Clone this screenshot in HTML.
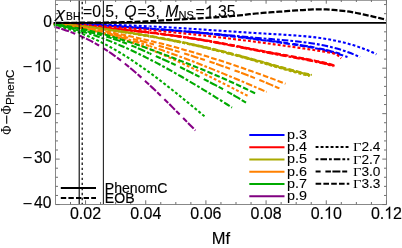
<!DOCTYPE html>
<html><head><meta charset="utf-8"><title>plot</title>
<style>html,body{margin:0;padding:0;background:#fff;width:402px;height:248px;overflow:hidden}</style></head>
<body>
<div style="position:absolute;left:0;top:0;width:402px;height:248px;will-change:transform">
<svg width="402" height="248" viewBox="0 0 402 248" style="position:absolute;left:0;top:0;font-family:'Liberation Sans',sans-serif">
<rect width="402" height="248" fill="#fff"/>
<path d="M53.80,23.27 L58.06,23.36 L62.31,23.46 L66.57,23.59 L70.83,23.74 L75.08,23.90 L79.34,24.09 L83.60,24.29 L87.85,24.51 L92.11,24.74 L96.37,24.99 L100.62,25.24 L104.88,25.52 L109.13,25.80 L113.39,26.09 L117.65,26.39 L121.90,26.69 L126.16,27.00 L130.42,27.32 L134.67,27.64 L138.93,27.97 L143.19,28.29 L147.44,28.62 L151.70,28.94 L155.96,29.27 L160.21,29.59 L164.47,29.92 L168.73,30.25 L172.98,30.59 L177.24,30.93 L181.50,31.27 L185.75,31.63 L190.01,31.99 L194.27,32.37 L198.52,32.76 L202.78,33.16 L207.03,33.57 L211.29,34.00 L215.55,34.45 L219.80,34.91 L224.06,35.39 L228.32,35.88 L232.57,36.38 L236.83,36.89 L241.09,37.42 L245.34,37.95 L249.60,38.50 L253.86,39.05 L258.11,39.60 L262.37,40.17 L266.63,40.74 L270.88,41.31 L275.14,41.89 L279.40,42.47 L283.65,43.07 L287.91,43.68 L292.17,44.30 L296.42,44.95 L300.68,45.63 L304.93,46.34 L309.19,47.09 L313.45,47.89 L317.70,48.76 L321.96,49.68 L326.22,50.68 L330.47,51.75 L334.73,52.91 L338.99,54.16 L343.24,55.51 L347.50,56.96" fill="none" stroke="#0000ff" stroke-width="2.1" stroke-dasharray="5.6 2.2" stroke-dashoffset="2.5"/>
<path d="M53.80,23.27 L57.95,23.35 L62.10,23.46 L66.24,23.58 L70.39,23.72 L74.54,23.88 L78.69,24.05 L82.83,24.25 L86.98,24.45 L91.13,24.67 L95.28,24.91 L99.43,25.15 L103.57,25.41 L107.72,25.68 L111.87,25.95 L116.02,26.24 L120.17,26.53 L124.31,26.83 L128.46,27.13 L132.61,27.43 L136.76,27.74 L140.90,28.05 L145.05,28.36 L149.20,28.68 L153.35,28.99 L157.50,29.30 L161.64,29.61 L165.79,29.92 L169.94,30.23 L174.09,30.55 L178.23,30.88 L182.38,31.21 L186.53,31.55 L190.68,31.89 L194.83,32.25 L198.97,32.62 L203.12,33.00 L207.27,33.40 L211.42,33.81 L215.57,34.23 L219.71,34.67 L223.86,35.12 L228.01,35.58 L232.16,36.06 L236.30,36.55 L240.45,37.04 L244.60,37.55 L248.75,38.06 L252.90,38.58 L257.04,39.11 L261.19,39.65 L265.34,40.18 L269.49,40.73 L273.63,41.27 L277.78,41.82 L281.93,42.38 L286.08,42.95 L290.23,43.54 L294.37,44.14 L298.52,44.77 L302.67,45.42 L306.82,46.12 L310.97,46.85 L315.11,47.64 L319.26,48.48 L323.41,49.39 L327.56,50.36 L331.70,51.41 L335.85,52.55 L340.00,53.77" fill="none" stroke="#0000ff" stroke-width="2.1" stroke-dasharray="5 4.8 5.5 1.5 8 1.8" stroke-dashoffset="9"/>
<path d="M53.80,23.28 L58.24,23.34 L62.68,23.43 L67.11,23.55 L71.55,23.69 L75.99,23.85 L80.43,24.03 L84.86,24.23 L89.30,24.45 L93.74,24.69 L98.18,24.95 L102.61,25.22 L107.05,25.50 L111.49,25.80 L115.93,26.10 L120.37,26.42 L124.80,26.74 L129.24,27.07 L133.68,27.41 L138.12,27.74 L142.55,28.08 L146.99,28.43 L151.43,28.77 L155.87,29.11 L160.30,29.45 L164.74,29.79 L169.18,30.13 L173.62,30.48 L178.06,30.83 L182.49,31.18 L186.93,31.53 L191.37,31.89 L195.81,32.26 L200.24,32.63 L204.68,33.02 L209.12,33.40 L213.56,33.80 L217.99,34.21 L222.43,34.62 L226.87,35.04 L231.31,35.46 L235.74,35.88 L240.18,36.30 L244.62,36.72 L249.06,37.14 L253.50,37.55 L257.93,37.96 L262.37,38.36 L266.81,38.75 L271.25,39.12 L275.68,39.49 L280.12,39.86 L284.56,40.24 L289.00,40.64 L293.43,41.07 L297.87,41.53 L302.31,42.03 L306.75,42.60 L311.19,43.22 L315.62,43.93 L320.06,44.71 L324.50,45.59 L328.94,46.56 L333.37,47.65 L337.81,48.86 L342.25,50.20 L346.69,51.69 L351.12,53.34 L355.56,55.15 L360.00,57.14" fill="none" stroke="#0000ff" stroke-width="2.1" stroke-dasharray="2.8 2.0 6.6 2.0" stroke-dashoffset="4"/>
<path d="M53.80,23.17 L58.48,23.28 L63.15,23.40 L67.83,23.51 L72.50,23.63 L77.18,23.76 L81.85,23.88 L86.53,24.01 L91.20,24.14 L95.88,24.28 L100.55,24.42 L105.23,24.57 L109.90,24.72 L114.58,24.88 L119.26,25.05 L123.93,25.23 L128.61,25.41 L133.28,25.61 L137.96,25.81 L142.63,26.02 L147.31,26.25 L151.98,26.48 L156.66,26.73 L161.33,26.98 L166.01,27.24 L170.68,27.52 L175.36,27.80 L180.03,28.08 L184.71,28.38 L189.39,28.68 L194.06,28.98 L198.74,29.29 L203.41,29.60 L208.09,29.91 L212.76,30.22 L217.44,30.54 L222.11,30.85 L226.79,31.17 L231.46,31.48 L236.14,31.79 L240.81,32.10 L245.49,32.41 L250.17,32.71 L254.84,33.00 L259.52,33.29 L264.19,33.57 L268.87,33.84 L273.54,34.11 L278.22,34.37 L282.89,34.64 L287.57,34.93 L292.24,35.24 L296.92,35.58 L301.59,35.95 L306.27,36.38 L310.94,36.86 L315.62,37.41 L320.30,38.03 L324.97,38.73 L329.65,39.52 L334.32,40.41 L339.00,41.41 L343.67,42.52 L348.35,43.75 L353.02,45.11 L357.70,46.62 L362.37,48.27 L367.05,50.08 L371.72,52.05 L376.40,54.20" fill="none" stroke="#0000ff" stroke-width="2.1" stroke-dasharray="2.9 2.1" stroke-dashoffset="0"/>
<path d="M53.80,23.90 L57.85,24.21 L61.91,24.52 L65.96,24.84 L70.01,25.16 L74.07,25.49 L78.12,25.81 L82.18,26.15 L86.23,26.48 L90.28,26.82 L94.34,27.17 L98.39,27.53 L102.44,27.89 L106.50,28.26 L110.55,28.63 L114.60,29.02 L118.66,29.41 L122.71,29.81 L126.77,30.22 L130.82,30.64 L134.87,31.07 L138.93,31.52 L142.98,31.97 L147.03,32.44 L151.09,32.91 L155.14,33.40 L159.19,33.91 L163.25,34.43 L167.30,34.96 L171.36,35.51 L175.41,36.07 L179.46,36.64 L183.52,37.24 L187.57,37.85 L191.62,38.48 L195.68,39.12 L199.73,39.78 L203.78,40.47 L207.84,41.17 L211.89,41.89 L215.94,42.62 L220.00,43.38 L224.05,44.15 L228.11,44.93 L232.16,45.72 L236.21,46.51 L240.27,47.32 L244.32,48.12 L248.37,48.93 L252.43,49.73 L256.48,50.53 L260.53,51.33 L264.59,52.12 L268.64,52.89 L272.70,53.66 L276.75,54.41 L280.80,55.15 L284.86,55.90 L288.91,56.64 L292.96,57.39 L297.02,58.15 L301.07,58.92 L305.12,59.70 L309.18,60.51 L313.23,61.34 L317.29,62.19 L321.34,63.09 L325.39,64.03 L329.45,65.10 L333.50,66.34" fill="none" stroke="#ff0000" stroke-width="2.1" stroke-dasharray="2.8 2.0 6.6 2.0" stroke-dashoffset="4"/>
<path d="M53.80,23.80 L57.87,24.11 L61.94,24.43 L66.00,24.74 L70.07,25.07 L74.14,25.39 L78.21,25.72 L82.28,26.05 L86.34,26.39 L90.41,26.73 L94.48,27.08 L98.55,27.43 L102.62,27.79 L106.69,28.16 L110.75,28.53 L114.82,28.91 L118.89,29.30 L122.96,29.70 L127.03,30.11 L131.09,30.53 L135.16,30.96 L139.23,31.40 L143.30,31.86 L147.37,32.32 L151.43,32.79 L155.50,33.28 L159.57,33.79 L163.64,34.30 L167.71,34.83 L171.78,35.37 L175.84,35.93 L179.91,36.51 L183.98,37.10 L188.05,37.71 L192.12,38.33 L196.18,38.97 L200.25,39.63 L204.32,40.31 L208.39,41.01 L212.46,41.73 L216.52,42.46 L220.59,43.21 L224.66,43.98 L228.73,44.75 L232.80,45.54 L236.87,46.33 L240.93,47.13 L245.00,47.92 L249.07,48.72 L253.14,49.52 L257.21,50.31 L261.27,51.10 L265.34,51.88 L269.41,52.64 L273.48,53.39 L277.55,54.14 L281.61,54.87 L285.68,55.61 L289.75,56.34 L293.82,57.08 L297.89,57.83 L301.96,58.59 L306.02,59.37 L310.09,60.17 L314.16,61.00 L318.23,61.85 L322.30,62.74 L326.36,63.70 L330.43,64.79 L334.50,66.08" fill="none" stroke="#ff0000" stroke-width="2.1" stroke-dasharray="5 4.8 5.5 1.5 8 1.8" stroke-dashoffset="9"/>
<path d="M53.80,23.70 L57.88,24.01 L61.97,24.33 L66.05,24.65 L70.13,24.97 L74.21,25.29 L78.30,25.62 L82.38,25.95 L86.46,26.29 L90.54,26.63 L94.63,26.98 L98.71,27.33 L102.79,27.69 L106.87,28.06 L110.96,28.43 L115.04,28.81 L119.12,29.20 L123.20,29.60 L127.29,30.01 L131.37,30.42 L135.45,30.85 L139.53,31.29 L143.62,31.74 L147.70,32.20 L151.78,32.68 L155.87,33.16 L159.95,33.66 L164.03,34.18 L168.11,34.70 L172.20,35.24 L176.28,35.80 L180.36,36.37 L184.44,36.96 L188.53,37.57 L192.61,38.19 L196.69,38.83 L200.77,39.49 L204.86,40.16 L208.94,40.86 L213.02,41.57 L217.10,42.30 L221.19,43.05 L225.27,43.81 L229.35,44.58 L233.43,45.36 L237.52,46.14 L241.60,46.94 L245.68,47.73 L249.77,48.52 L253.85,49.31 L257.93,50.09 L262.01,50.87 L266.10,51.63 L270.18,52.39 L274.26,53.13 L278.34,53.86 L282.43,54.59 L286.51,55.31 L290.59,56.04 L294.67,56.77 L298.76,57.51 L302.84,58.27 L306.92,59.04 L311.00,59.84 L315.09,60.66 L319.17,61.51 L323.25,62.40 L327.33,63.37 L331.42,64.50 L335.50,65.83" fill="none" stroke="#ff0000" stroke-width="2.1" stroke-dasharray="5.6 2.2" stroke-dashoffset="2.5"/>
<path d="M53.80,23.33 L57.97,23.55 L62.13,23.78 L66.30,24.02 L70.46,24.26 L74.63,24.51 L78.79,24.76 L82.96,25.03 L87.12,25.30 L91.29,25.57 L95.45,25.85 L99.62,26.14 L103.78,26.44 L107.95,26.74 L112.11,27.05 L116.28,27.37 L120.44,27.69 L124.61,28.02 L128.77,28.36 L132.94,28.71 L137.10,29.06 L141.27,29.41 L145.43,29.78 L149.60,30.15 L153.77,30.52 L157.93,30.91 L162.10,31.30 L166.26,31.70 L170.43,32.10 L174.59,32.51 L178.76,32.93 L182.92,33.35 L187.09,33.78 L191.25,34.22 L195.42,34.66 L199.58,35.11 L203.75,35.57 L207.91,36.04 L212.08,36.51 L216.24,36.98 L220.41,37.47 L224.57,37.96 L228.74,38.45 L232.90,38.96 L237.07,39.47 L241.23,39.98 L245.40,40.50 L249.57,41.03 L253.73,41.57 L257.90,42.11 L262.06,42.66 L266.23,43.22 L270.39,43.78 L274.56,44.35 L278.72,44.92 L282.89,45.50 L287.05,46.09 L291.22,46.69 L295.38,47.29 L299.55,47.91 L303.71,48.53 L307.88,49.15 L312.04,49.79 L316.21,50.43 L320.37,51.09 L324.54,51.75 L328.70,52.42 L332.87,53.17 L337.03,54.76 L341.20,58.38" fill="none" stroke="#ff0000" stroke-width="2.1" stroke-dasharray="2.9 2.1" stroke-dashoffset="0"/>
<path d="M53.80,23.91 L57.51,24.23 L61.21,24.57 L64.92,24.92 L68.62,25.28 L72.33,25.66 L76.03,26.05 L79.74,26.45 L83.45,26.86 L87.15,27.29 L90.86,27.73 L94.56,28.18 L98.27,28.65 L101.98,29.13 L105.68,29.62 L109.39,30.12 L113.09,30.64 L116.80,31.17 L120.50,31.71 L124.21,32.27 L127.92,32.84 L131.62,33.43 L135.33,34.02 L139.03,34.64 L142.74,35.26 L146.44,35.90 L150.15,36.55 L153.86,37.22 L157.56,37.90 L161.27,38.59 L164.97,39.30 L168.68,40.02 L172.39,40.76 L176.09,41.51 L179.80,42.27 L183.50,43.05 L187.21,43.84 L190.91,44.65 L194.62,45.47 L198.33,46.31 L202.03,47.16 L205.74,48.02 L209.44,48.90 L213.15,49.80 L216.86,50.71 L220.56,51.63 L224.27,52.57 L227.97,53.52 L231.68,54.49 L235.38,55.48 L239.09,56.47 L242.80,57.49 L246.50,58.51 L250.21,59.55 L253.91,60.60 L257.62,61.66 L261.32,62.72 L265.03,63.78 L268.74,64.84 L272.44,65.91 L276.15,66.97 L279.85,68.02 L283.56,69.07 L287.27,70.11 L290.97,71.13 L294.68,72.15 L298.38,73.14 L302.09,74.12 L305.79,75.08 L309.50,76.02" fill="none" stroke="#aaaa00" stroke-width="2.1" stroke-dasharray="2.9 2.1" stroke-dashoffset="0"/>
<path d="M53.80,23.81 L57.52,24.13 L61.24,24.47 L64.96,24.82 L68.68,25.19 L72.40,25.57 L76.12,25.95 L79.84,26.36 L83.56,26.77 L87.28,27.20 L91.00,27.64 L94.72,28.09 L98.44,28.55 L102.16,29.03 L105.88,29.52 L109.60,30.03 L113.32,30.55 L117.04,31.08 L120.77,31.62 L124.49,32.18 L128.21,32.75 L131.93,33.33 L135.65,33.93 L139.37,34.54 L143.09,35.16 L146.81,35.80 L150.53,36.45 L154.25,37.11 L157.97,37.79 L161.69,38.48 L165.41,39.19 L169.13,39.91 L172.85,40.64 L176.57,41.39 L180.29,42.15 L184.01,42.93 L187.73,43.72 L191.45,44.52 L195.17,45.34 L198.89,46.18 L202.61,47.02 L206.33,47.89 L210.05,48.76 L213.77,49.65 L217.49,50.56 L221.21,51.48 L224.93,52.42 L228.65,53.37 L232.37,54.33 L236.09,55.31 L239.81,56.31 L243.53,57.32 L247.26,58.34 L250.98,59.37 L254.70,60.41 L258.42,61.46 L262.14,62.52 L265.86,63.57 L269.58,64.63 L273.30,65.68 L277.02,66.73 L280.74,67.78 L284.46,68.81 L288.18,69.84 L291.90,70.85 L295.62,71.85 L299.34,72.84 L303.06,73.80 L306.78,74.74 L310.50,75.66" fill="none" stroke="#aaaa00" stroke-width="2.1" stroke-dasharray="2.8 2.0 6.6 2.0" stroke-dashoffset="4"/>
<path d="M53.80,23.61 L57.53,23.93 L61.26,24.27 L64.99,24.63 L68.72,24.99 L72.45,25.37 L76.18,25.76 L79.91,26.16 L83.64,26.58 L87.37,27.00 L91.10,27.44 L94.83,27.90 L98.57,28.36 L102.30,28.84 L106.03,29.33 L109.76,29.84 L113.49,30.35 L117.22,30.88 L120.95,31.43 L124.68,31.98 L128.41,32.55 L132.14,33.14 L135.87,33.73 L139.60,34.34 L143.33,34.97 L147.06,35.60 L150.79,36.25 L154.52,36.92 L158.25,37.60 L161.98,38.29 L165.71,38.99 L169.44,39.71 L173.17,40.44 L176.90,41.19 L180.63,41.95 L184.37,42.73 L188.10,43.52 L191.83,44.32 L195.56,45.14 L199.29,45.97 L203.02,46.82 L206.75,47.68 L210.48,48.55 L214.21,49.44 L217.94,50.35 L221.67,51.27 L225.40,52.20 L229.13,53.15 L232.86,54.11 L236.59,55.09 L240.32,56.09 L244.05,57.09 L247.78,58.11 L251.51,59.14 L255.24,60.18 L258.97,61.23 L262.70,62.28 L266.43,63.33 L270.17,64.38 L273.90,65.43 L277.63,66.48 L281.36,67.52 L285.09,68.55 L288.82,69.56 L292.55,70.57 L296.28,71.56 L300.01,72.54 L303.74,73.49 L307.47,74.42 L311.20,75.33" fill="none" stroke="#aaaa00" stroke-width="2.1" stroke-dasharray="5 4.8 5.5 1.5 8 1.8" stroke-dashoffset="9"/>
<path d="M53.80,23.51 L57.54,23.83 L61.28,24.18 L65.02,24.53 L68.76,24.89 L72.50,25.27 L76.23,25.66 L79.97,26.06 L83.71,26.48 L87.45,26.91 L91.19,27.35 L94.93,27.80 L98.67,28.26 L102.41,28.74 L106.15,29.23 L109.89,29.73 L113.63,30.25 L117.37,30.78 L121.10,31.32 L124.84,31.88 L128.58,32.45 L132.32,33.03 L136.06,33.62 L139.80,34.23 L143.54,34.85 L147.28,35.49 L151.02,36.14 L154.76,36.80 L158.50,37.47 L162.23,38.16 L165.97,38.87 L169.71,39.58 L173.45,40.31 L177.19,41.06 L180.93,41.82 L184.67,42.59 L188.41,43.38 L192.15,44.18 L195.89,44.99 L199.63,45.82 L203.37,46.66 L207.10,47.52 L210.84,48.39 L214.58,49.28 L218.32,50.18 L222.06,51.10 L225.80,52.03 L229.54,52.97 L233.28,53.93 L237.02,54.90 L240.76,55.89 L244.50,56.90 L248.23,57.91 L251.97,58.94 L255.71,59.97 L259.45,61.01 L263.19,62.05 L266.93,63.10 L270.67,64.14 L274.41,65.18 L278.15,66.22 L281.89,67.25 L285.63,68.27 L289.37,69.28 L293.10,70.28 L296.84,71.26 L300.58,72.22 L304.32,73.16 L308.06,74.08 L311.80,74.98" fill="none" stroke="#aaaa00" stroke-width="2.1" stroke-dasharray="5.6 2.2" stroke-dashoffset="2.5"/>
<path d="M53.80,24.20 L56.62,24.45 L59.43,24.73 L62.25,25.05 L65.07,25.41 L67.89,25.79 L70.70,26.21 L73.52,26.67 L76.34,27.15 L79.16,27.67 L81.97,28.21 L84.79,28.79 L87.61,29.39 L90.43,30.03 L93.24,30.69 L96.06,31.38 L98.88,32.10 L101.70,32.85 L104.51,33.62 L107.33,34.42 L110.15,35.24 L112.97,36.09 L115.78,36.97 L118.60,37.86 L121.42,38.79 L124.23,39.73 L127.05,40.70 L129.87,41.69 L132.69,42.69 L135.50,43.73 L138.32,44.78 L141.14,45.85 L143.96,46.94 L146.77,48.05 L149.59,49.17 L152.41,50.32 L155.23,51.48 L158.04,52.66 L160.86,53.85 L163.68,55.06 L166.50,56.29 L169.31,57.53 L172.13,58.79 L174.95,60.05 L177.77,61.33 L180.58,62.63 L183.40,63.93 L186.22,65.25 L189.03,66.58 L191.85,67.92 L194.67,69.27 L197.49,70.63 L200.30,71.99 L203.12,73.37 L205.94,74.75 L208.76,76.14 L211.57,77.54 L214.39,78.95 L217.21,80.36 L220.03,81.77 L222.84,83.19 L225.66,84.62 L228.48,86.04 L231.30,87.48 L234.11,88.91 L236.93,90.35 L239.75,91.78 L242.57,93.22 L245.38,94.66 L248.20,96.10" fill="none" stroke="#ff8000" stroke-width="2.1" stroke-dasharray="2.9 2.1" stroke-dashoffset="0"/>
<path d="M53.80,24.02 L56.88,24.39 L59.97,24.79 L63.05,25.21 L66.14,25.66 L69.22,26.13 L72.30,26.62 L75.39,27.14 L78.47,27.69 L81.56,28.25 L84.64,28.84 L87.72,29.46 L90.81,30.09 L93.89,30.75 L96.98,31.43 L100.06,32.13 L103.14,32.85 L106.23,33.59 L109.31,34.36 L112.40,35.14 L115.48,35.94 L118.57,36.76 L121.65,37.60 L124.73,38.46 L127.82,39.34 L130.90,40.23 L133.99,41.15 L137.07,42.08 L140.15,43.02 L143.24,43.99 L146.32,44.96 L149.41,45.96 L152.49,46.97 L155.57,47.99 L158.66,49.03 L161.74,50.09 L164.83,51.16 L167.91,52.24 L170.99,53.33 L174.08,54.44 L177.16,55.56 L180.25,56.69 L183.33,57.84 L186.41,58.99 L189.50,60.16 L192.58,61.34 L195.67,62.53 L198.75,63.73 L201.83,64.93 L204.92,66.15 L208.00,67.38 L211.09,68.61 L214.17,69.86 L217.26,71.11 L220.34,72.37 L223.42,73.64 L226.51,74.91 L229.59,76.19 L232.68,77.48 L235.76,78.77 L238.84,80.07 L241.93,81.37 L245.01,82.68 L248.10,84.00 L251.18,85.31 L254.26,86.63 L257.35,87.96 L260.43,89.29 L263.52,90.62 L266.60,91.95" fill="none" stroke="#ff8000" stroke-width="2.1" stroke-dasharray="2.8 2.0 6.6 2.0" stroke-dashoffset="4"/>
<path d="M53.80,23.92 L57.09,24.32 L60.37,24.75 L63.66,25.19 L66.94,25.65 L70.23,26.13 L73.51,26.64 L76.80,27.16 L80.08,27.70 L83.37,28.26 L86.66,28.85 L89.94,29.45 L93.23,30.06 L96.51,30.70 L99.80,31.36 L103.08,32.03 L106.37,32.72 L109.65,33.42 L112.94,34.15 L116.22,34.89 L119.51,35.64 L122.80,36.42 L126.08,37.20 L129.37,38.01 L132.65,38.83 L135.94,39.66 L139.22,40.51 L142.51,41.37 L145.79,42.24 L149.08,43.13 L152.37,44.04 L155.65,44.95 L158.94,45.88 L162.22,46.83 L165.51,47.78 L168.79,48.75 L172.08,49.72 L175.36,50.71 L178.65,51.71 L181.93,52.73 L185.22,53.75 L188.51,54.78 L191.79,55.82 L195.08,56.88 L198.36,57.94 L201.65,59.01 L204.93,60.09 L208.22,61.19 L211.50,62.29 L214.79,63.41 L218.08,64.54 L221.36,65.68 L224.65,66.83 L227.93,68.00 L231.22,69.18 L234.50,70.38 L237.79,71.59 L241.07,72.81 L244.36,74.06 L247.64,75.31 L250.93,76.59 L254.22,77.88 L257.50,79.19 L260.79,80.52 L264.07,81.86 L267.36,83.22 L270.64,84.61 L273.93,86.01 L277.21,87.43 L280.50,88.88" fill="none" stroke="#ff8000" stroke-width="2.1" stroke-dasharray="5 4.8 5.5 1.5 8 1.8" stroke-dashoffset="9"/>
<path d="M53.80,23.87 L57.16,24.24 L60.52,24.62 L63.87,25.02 L67.23,25.44 L70.59,25.88 L73.95,26.33 L77.31,26.80 L80.66,27.28 L84.02,27.79 L87.38,28.30 L90.74,28.84 L94.10,29.39 L97.45,29.95 L100.81,30.54 L104.17,31.13 L107.53,31.75 L110.89,32.37 L114.24,33.02 L117.60,33.68 L120.96,34.35 L124.32,35.04 L127.68,35.74 L131.03,36.46 L134.39,37.20 L137.75,37.94 L141.11,38.71 L144.47,39.49 L147.82,40.28 L151.18,41.08 L154.54,41.90 L157.90,42.74 L161.26,43.58 L164.61,44.44 L167.97,45.32 L171.33,46.21 L174.69,47.11 L178.04,48.03 L181.40,48.95 L184.76,49.90 L188.12,50.85 L191.48,51.82 L194.83,52.80 L198.19,53.79 L201.55,54.80 L204.91,55.82 L208.27,56.85 L211.62,57.89 L214.98,58.94 L218.34,60.01 L221.70,61.09 L225.06,62.18 L228.41,63.28 L231.77,64.40 L235.13,65.52 L238.49,66.66 L241.85,67.81 L245.20,68.97 L248.56,70.14 L251.92,71.32 L255.28,72.51 L258.64,73.71 L261.99,74.93 L265.35,76.15 L268.71,77.39 L272.07,78.63 L275.43,79.89 L278.78,81.15 L282.14,82.43 L285.50,83.71" fill="none" stroke="#ff8000" stroke-width="2.1" stroke-dasharray="5.6 2.2" stroke-dashoffset="2.5"/>
<path d="M53.80,25.22 L55.98,25.68 L58.17,26.18 L60.35,26.71 L62.54,27.27 L64.72,27.87 L66.90,28.50 L69.09,29.15 L71.27,29.84 L73.46,30.56 L75.64,31.31 L77.82,32.09 L80.01,32.90 L82.19,33.74 L84.38,34.61 L86.56,35.51 L88.74,36.43 L90.93,37.39 L93.11,38.37 L95.30,39.38 L97.48,40.42 L99.67,41.49 L101.85,42.58 L104.03,43.70 L106.22,44.85 L108.40,46.02 L110.59,47.22 L112.77,48.44 L114.95,49.69 L117.14,50.97 L119.32,52.27 L121.51,53.59 L123.69,54.94 L125.87,56.31 L128.06,57.71 L130.24,59.12 L132.43,60.56 L134.61,62.02 L136.79,63.51 L138.98,65.01 L141.16,66.53 L143.35,68.07 L145.53,69.62 L147.71,71.20 L149.90,72.79 L152.08,74.40 L154.27,76.02 L156.45,77.66 L158.63,79.31 L160.82,80.98 L163.00,82.66 L165.19,84.35 L167.37,86.06 L169.56,87.78 L171.74,89.50 L173.92,91.24 L176.11,92.99 L178.29,94.75 L180.48,96.51 L182.66,98.28 L184.84,100.07 L187.03,101.85 L189.21,103.64 L191.40,105.44 L193.58,107.25 L195.76,109.05 L197.95,110.86 L200.13,112.68 L202.32,114.49 L204.50,116.31" fill="none" stroke="#00aa00" stroke-width="2.1" stroke-dasharray="2.9 2.1" stroke-dashoffset="0"/>
<path d="M53.80,24.62 L56.38,25.09 L58.97,25.60 L61.55,26.13 L64.13,26.69 L66.71,27.28 L69.30,27.90 L71.88,28.55 L74.46,29.23 L77.04,29.93 L79.63,30.66 L82.21,31.41 L84.79,32.20 L87.37,33.01 L89.96,33.84 L92.54,34.70 L95.12,35.58 L97.70,36.49 L100.29,37.42 L102.87,38.38 L105.45,39.35 L108.03,40.36 L110.62,41.38 L113.20,42.42 L115.78,43.49 L118.37,44.58 L120.95,45.69 L123.53,46.82 L126.11,47.96 L128.70,49.13 L131.28,50.32 L133.86,51.53 L136.44,52.75 L139.03,54.00 L141.61,55.26 L144.19,56.54 L146.77,57.83 L149.36,59.14 L151.94,60.47 L154.52,61.81 L157.10,63.17 L159.69,64.55 L162.27,65.94 L164.85,67.34 L167.43,68.75 L170.02,70.18 L172.60,71.63 L175.18,73.08 L177.77,74.55 L180.35,76.03 L182.93,77.52 L185.51,79.02 L188.10,80.54 L190.68,82.06 L193.26,83.59 L195.84,85.14 L198.43,86.69 L201.01,88.25 L203.59,89.82 L206.17,91.40 L208.76,92.98 L211.34,94.58 L213.92,96.17 L216.50,97.78 L219.09,99.39 L221.67,101.01 L224.25,102.63 L226.83,104.26 L229.42,105.89 L232.00,107.53" fill="none" stroke="#00aa00" stroke-width="2.1" stroke-dasharray="2.8 2.0 6.6 2.0" stroke-dashoffset="4"/>
<path d="M53.80,24.25 L56.60,24.82 L59.39,25.39 L62.19,25.97 L64.98,26.54 L67.78,27.13 L70.57,27.72 L73.37,28.31 L76.17,28.92 L78.96,29.54 L81.76,30.17 L84.55,30.82 L87.35,31.48 L90.14,32.17 L92.94,32.87 L95.73,33.59 L98.53,34.34 L101.33,35.12 L104.12,35.92 L106.92,36.75 L109.71,37.61 L112.51,38.50 L115.30,39.42 L118.10,40.38 L120.90,41.38 L123.69,42.41 L126.49,43.48 L129.28,44.59 L132.08,45.73 L134.87,46.90 L137.67,48.09 L140.47,49.31 L143.26,50.54 L146.06,51.78 L148.85,53.04 L151.65,54.30 L154.44,55.56 L157.24,56.82 L160.03,58.08 L162.83,59.33 L165.63,60.56 L168.42,61.79 L171.22,63.02 L174.01,64.26 L176.81,65.53 L179.60,66.83 L182.40,68.18 L185.20,69.55 L187.99,70.95 L190.79,72.37 L193.58,73.80 L196.38,75.23 L199.17,76.67 L201.97,78.12 L204.77,79.58 L207.56,81.03 L210.36,82.49 L213.15,83.96 L215.95,85.44 L218.74,86.93 L221.54,88.44 L224.33,89.97 L227.13,91.51 L229.93,93.08 L232.72,94.67 L235.52,96.29 L238.31,97.94 L241.11,99.62 L243.90,101.34 L246.70,103.10" fill="none" stroke="#00aa00" stroke-width="2.1" stroke-dasharray="5 4.8 5.5 1.5 8 1.8" stroke-dashoffset="9"/>
<path d="M53.80,24.07 L56.74,24.46 L59.67,24.89 L62.61,25.34 L65.54,25.82 L68.48,26.32 L71.42,26.85 L74.35,27.41 L77.29,27.98 L80.23,28.59 L83.16,29.21 L86.10,29.87 L89.03,30.54 L91.97,31.24 L94.91,31.96 L97.84,32.71 L100.78,33.48 L103.72,34.27 L106.65,35.08 L109.59,35.91 L112.52,36.77 L115.46,37.64 L118.40,38.54 L121.33,39.45 L124.27,40.38 L127.21,41.33 L130.14,42.29 L133.08,43.28 L136.01,44.27 L138.95,45.28 L141.89,46.31 L144.82,47.35 L147.76,48.40 L150.70,49.46 L153.63,50.53 L156.57,51.62 L159.50,52.71 L162.44,53.82 L165.38,54.93 L168.31,56.06 L171.25,57.18 L174.19,58.32 L177.12,59.46 L180.06,60.61 L182.99,61.76 L185.93,62.92 L188.87,64.09 L191.80,65.26 L194.74,66.44 L197.68,67.63 L200.61,68.83 L203.55,70.04 L206.48,71.26 L209.42,72.48 L212.36,73.72 L215.29,74.97 L218.23,76.24 L221.17,77.51 L224.10,78.80 L227.04,80.10 L229.97,81.42 L232.91,82.75 L235.85,84.09 L238.78,85.46 L241.72,86.83 L244.66,88.23 L247.59,89.64 L250.53,91.07 L253.46,92.52 L256.40,93.99" fill="none" stroke="#00aa00" stroke-width="2.1" stroke-dasharray="5.6 2.2" stroke-dashoffset="2.5"/>
<path d="M53.80,26.74 L55.85,27.28 L57.90,27.85 L59.96,28.45 L62.01,29.07 L64.06,29.72 L66.11,30.40 L68.17,31.11 L70.22,31.85 L72.27,32.62 L74.32,33.41 L76.37,34.24 L78.43,35.10 L80.48,35.99 L82.53,36.91 L84.58,37.86 L86.63,38.85 L88.69,39.87 L90.74,40.92 L92.79,42.01 L94.84,43.13 L96.90,44.29 L98.95,45.48 L101.00,46.71 L103.05,47.98 L105.10,49.28 L107.16,50.62 L109.21,52.00 L111.26,53.41 L113.31,54.86 L115.37,56.33 L117.42,57.85 L119.47,59.39 L121.52,60.96 L123.57,62.57 L125.63,64.20 L127.68,65.86 L129.73,67.55 L131.78,69.26 L133.83,71.00 L135.89,72.76 L137.94,74.55 L139.99,76.35 L142.04,78.18 L144.10,80.04 L146.15,81.91 L148.20,83.80 L150.25,85.70 L152.30,87.63 L154.36,89.57 L156.41,91.53 L158.46,93.50 L160.51,95.48 L162.57,97.48 L164.62,99.49 L166.67,101.50 L168.72,103.53 L170.77,105.57 L172.83,107.62 L174.88,109.67 L176.93,111.73 L178.98,113.80 L181.03,115.87 L183.09,117.94 L185.14,120.02 L187.19,122.09 L189.24,124.17 L191.30,126.25 L193.35,128.33 L195.40,130.40" fill="none" stroke="#860086" stroke-width="2.1" stroke-dasharray="5 4.8 5.5 1.5 8 1.8" stroke-dashoffset="9"/>
<path d="M55.50,22.80 L58.84,22.80 L62.19,22.79 L65.53,22.79 L68.87,22.78 L72.22,22.77 L75.56,22.75 L78.90,22.74 L82.25,22.72 L85.59,22.70 L88.93,22.68 L92.28,22.66 L95.62,22.63 L98.96,22.61 L102.31,22.58 L105.65,22.54 L108.99,22.49 L112.34,22.43 L115.68,22.36 L119.03,22.28 L122.37,22.20 L125.71,22.12 L129.06,22.03 L132.40,21.93 L135.74,21.82 L139.09,21.69 L142.43,21.55 L145.77,21.40 L149.12,21.24 L152.46,21.07 L155.80,20.88 L159.15,20.68 L162.49,20.47 L165.83,20.25 L169.18,20.05 L172.52,19.85 L175.86,19.66 L179.21,19.48 L182.55,19.29 L185.89,19.11 L189.24,18.92 L192.58,18.74 L195.92,18.54 L199.27,18.34 L202.61,18.14 L205.95,17.94 L209.30,17.73 L212.64,17.51 L215.98,17.29 L219.33,17.05 L222.67,16.80 L226.02,16.54 L229.36,16.26 L232.70,15.98 L236.05,15.68 L239.39,15.36 L242.73,15.01 L246.08,14.61 L249.42,14.21 L252.76,13.82 L256.11,13.50 L259.45,13.21 L262.79,12.95 L266.14,12.70 L269.48,12.46 L272.82,12.22 L276.17,11.98 L279.51,11.74 L282.85,11.48 L286.20,11.21 L289.54,10.94 L292.88,10.68 L296.23,10.44 L299.57,10.22 L302.91,10.03 L306.26,9.82 L309.60,9.63 L312.94,9.47 L316.29,9.35 L319.63,9.30 L322.97,9.34 L326.32,9.46 L329.66,9.65 L333.01,9.90 L336.35,10.19 L339.69,10.51 L343.04,10.84 L346.38,11.22 L349.72,11.72 L353.07,12.31 L356.41,12.98 L359.75,13.68 L363.10,14.39 L366.44,15.09 L369.78,15.80 L373.13,16.55 L376.47,17.33 L379.81,18.14 L383.16,18.97 L386.50,19.70" fill="none" stroke="#000" stroke-width="2.25" stroke-dasharray="6 1.9"/>
<line x1="53.8" y1="22.9" x2="386.5" y2="22.9" stroke="#000" stroke-width="1.9"/>
<line x1="79.2" y1="0" x2="79.2" y2="204.5" stroke="#000" stroke-width="1.1"/>
<line x1="82.2" y1="1.8" x2="82.2" y2="204.5" stroke="#000" stroke-width="1.2" stroke-dasharray="2.4 2.625"/>
<line x1="103.4" y1="0" x2="103.4" y2="204.5" stroke="#222" stroke-width="1.1"/>
<line x1="149.4" y1="25" x2="149.4" y2="60" stroke="#fff" stroke-width="0.6" opacity="0.75"/>
<path d="M55.5,0 V204.5 H386.5 V0" fill="none" stroke="#888888" stroke-width="1"/>
<line x1="55.5" y1="0.3" x2="386.5" y2="0.3" stroke="#888888" stroke-width="1"/>
<path d="M70.50,204.5 v-2.5 M70.50,0 v2.0 M85.55,204.5 v-4.2 M85.55,0 v3.7 M100.59,204.5 v-2.5 M100.59,0 v2.0 M115.64,204.5 v-2.5 M115.64,0 v2.0 M130.69,204.5 v-2.5 M130.69,0 v2.0 M145.73,204.5 v-4.2 M145.73,0 v3.7 M160.77,204.5 v-2.5 M160.77,0 v2.0 M175.82,204.5 v-2.5 M175.82,0 v2.0 M190.87,204.5 v-2.5 M190.87,0 v2.0 M205.91,204.5 v-4.2 M205.91,0 v3.7 M220.95,204.5 v-2.5 M220.95,0 v2.0 M236.00,204.5 v-2.5 M236.00,0 v2.0 M251.04,204.5 v-2.5 M251.04,0 v2.0 M266.09,204.5 v-4.2 M266.09,0 v3.7 M281.13,204.5 v-2.5 M281.13,0 v2.0 M296.18,204.5 v-2.5 M296.18,0 v2.0 M311.22,204.5 v-2.5 M311.22,0 v2.0 M326.27,204.5 v-4.2 M326.27,0 v3.7 M341.31,204.5 v-2.5 M341.31,0 v2.0 M356.36,204.5 v-2.5 M356.36,0 v2.0 M371.41,204.5 v-2.5 M371.41,0 v2.0 M386.45,204.5 v-4.2 M386.45,0 v3.7 M55.5,204.55 h4.2 M386.5,204.55 h-4.2 M55.5,195.46 h2.5 M386.5,195.46 h-2.5 M55.5,186.37 h2.5 M386.5,186.37 h-2.5 M55.5,177.28 h2.5 M386.5,177.28 h-2.5 M55.5,168.19 h2.5 M386.5,168.19 h-2.5 M55.5,159.10 h4.2 M386.5,159.10 h-4.2 M55.5,150.01 h2.5 M386.5,150.01 h-2.5 M55.5,140.92 h2.5 M386.5,140.92 h-2.5 M55.5,131.83 h2.5 M386.5,131.83 h-2.5 M55.5,122.74 h2.5 M386.5,122.74 h-2.5 M55.5,113.65 h4.2 M386.5,113.65 h-4.2 M55.5,104.56 h2.5 M386.5,104.56 h-2.5 M55.5,95.47 h2.5 M386.5,95.47 h-2.5 M55.5,86.38 h2.5 M386.5,86.38 h-2.5 M55.5,77.29 h2.5 M386.5,77.29 h-2.5 M55.5,68.20 h4.2 M386.5,68.20 h-4.2 M55.5,59.11 h2.5 M386.5,59.11 h-2.5 M55.5,50.02 h2.5 M386.5,50.02 h-2.5 M55.5,40.93 h2.5 M386.5,40.93 h-2.5 M55.5,31.84 h2.5 M386.5,31.84 h-2.5 M55.5,13.66 h2.5 M386.5,13.66 h-2.5 M55.5,4.57 h2.5 M386.5,4.57 h-2.5" fill="none" stroke="#707070" stroke-width="1"/>
<text transform="translate(69.98,218.7) scale(1,1.05)" font-size="16.0" fill="#000" stroke="#000" stroke-width="0.15">0.02</text>
<text transform="translate(130.16,218.7) scale(1,1.05)" font-size="16.0" fill="#000" stroke="#000" stroke-width="0.15">0.04</text>
<text transform="translate(190.34,218.7) scale(1,1.05)" font-size="16.0" fill="#000" stroke="#000" stroke-width="0.15">0.06</text>
<text transform="translate(250.52,218.7) scale(1,1.05)" font-size="16.0" fill="#000" stroke="#000" stroke-width="0.15">0.08</text>
<text transform="translate(310.70,218.7) scale(1,1.05)" font-size="16.0" fill="#000" stroke="#000" stroke-width="0.15">0.</text>
<path transform="translate(324.05,218.70) scale(0.00781,-0.00820)" d="M763 0H583V1147Q518 1085 412.5 1023T223 930V1104Q374 1175 487 1276T647 1472H763Z" fill="#000" stroke="#000" stroke-width="19.2"/>
<text transform="translate(332.94,218.7) scale(1,1.05)" font-size="16.0" fill="#000" stroke="#000" stroke-width="0.15">0</text>
<text transform="translate(370.88,218.7) scale(1,1.05)" font-size="16.0" fill="#000" stroke="#000" stroke-width="0.15">0.</text>
<path transform="translate(384.23,218.70) scale(0.00781,-0.00820)" d="M763 0H583V1147Q518 1085 412.5 1023T223 930V1104Q374 1175 487 1276T647 1472H763Z" fill="#000" stroke="#000" stroke-width="19.2"/>
<text transform="translate(393.12,218.7) scale(1,1.05)" font-size="16.0" fill="#000" stroke="#000" stroke-width="0.15">2</text>
<text transform="translate(52.0,27.0) scale(1,1.05)" font-size="15.7" text-anchor="end" stroke="#000" stroke-width="0.15">0</text>
<text transform="translate(51.5,71.8) scale(1,1.05)" font-size="15.7" text-anchor="end" stroke="#000" stroke-width="0.15">0</text>
<path transform="translate(34.04,71.80) scale(0.00767,-0.00805)" d="M763 0H583V1147Q518 1085 412.5 1023T223 930V1104Q374 1175 487 1276T647 1472H763Z" fill="#000" stroke="#000" stroke-width="19.6"/>
<text transform="translate(32.3,72.40) scale(1.05,1)" font-size="16" text-anchor="end">−</text>
<text transform="translate(51.5,117.2) scale(1,1.05)" font-size="15.7" text-anchor="end" stroke="#000" stroke-width="0.15">20</text>
<text transform="translate(32.3,117.85) scale(1.05,1)" font-size="16" text-anchor="end">−</text>
<text transform="translate(51.5,162.7) scale(1,1.05)" font-size="15.7" text-anchor="end" stroke="#000" stroke-width="0.15">30</text>
<text transform="translate(32.3,163.30) scale(1.05,1)" font-size="16" text-anchor="end">−</text>
<text transform="translate(51.5,208.2) scale(1,1.05)" font-size="15.7" text-anchor="end" stroke="#000" stroke-width="0.15">40</text>
<text transform="translate(32.3,208.75) scale(1.05,1)" font-size="16" text-anchor="end">−</text>
<text x="211.8" y="243.6" font-size="16.5" stroke="#000" stroke-width="0.15">Mf</text>
<g transform="translate(11.3,135) rotate(-90)"><text transform="translate(0.2,0) scale(1,1.22)" font-family="'Liberation Serif',serif" font-size="12.6">Φ</text><line x1="11.2" y1="-4.6" x2="19.6" y2="-4.6" stroke="#000" stroke-width="1.1"/><text transform="translate(20.6,0) scale(1,1.22)" font-family="'Liberation Serif',serif" font-size="12.6">Φ</text><text x="30.0" y="2.4" font-size="11.6" stroke="#000" stroke-width="0.15">PhenC</text></g>
<text transform="translate(55.6,17.5) scale(1.18,1.0)" font-size="15" font-style="italic" stroke="#000" stroke-width="0.15">χ</text>
<text x="66.1" y="20.2" font-size="10.3" stroke="#000" stroke-width="0.15">BH</text>
<text x="83.0" y="16.4" font-size="15.8" transform="scale(1,1.03)" stroke="#000" stroke-width="0.1">=0.5,</text>
<text x="124.3" y="16.4" font-size="15.8" font-style="italic" transform="scale(1,1.03)" stroke="#000" stroke-width="0.1">Q</text>
<text x="137.4" y="16.4" font-size="15.8" transform="scale(1,1.03)" stroke="#000" stroke-width="0.1">=3,</text>
<text x="165.3" y="16.4" font-size="15.8" font-style="italic" transform="scale(1,1.03)" stroke="#000" stroke-width="0.1">M</text>
<text x="178.6" y="19.1" font-size="11" stroke="#000" stroke-width="0.15">NS</text>
<text x="195.6" y="16.4" font-size="15.8" transform="scale(1,1.03)" stroke="#000" stroke-width="0.1">=</text>
<path transform="translate(204.83,16.89) scale(0.00771,-0.00795)" d="M763 0H583V1147Q518 1085 412.5 1023T223 930V1104Q374 1175 487 1276T647 1472H763Z" fill="#000" stroke="#000" stroke-width="13.0"/>
<text x="213.61" y="16.4" font-size="15.8" transform="scale(1,1.03)" stroke="#000" stroke-width="0.1">.35</text>
<line x1="60.8" y1="188.1" x2="96" y2="188.1" stroke="#000" stroke-width="2"/>
<line x1="60.8" y1="198.1" x2="96" y2="198.1" stroke="#000" stroke-width="2" stroke-dasharray="5.4 2.2"/>
<text x="104.8" y="192.8" font-size="14.1" stroke="#000" stroke-width="0.15">PhenomC</text>
<text x="104.8" y="203.3" font-size="14.1" stroke="#000" stroke-width="0.15">EOB</text>
<line x1="249.3" y1="135.00" x2="284.5" y2="135.00" stroke="#0000ff" stroke-width="2"/>
<text transform="translate(287,138.90) scale(1.2,1)" font-size="12" stroke="#000" stroke-width="0.08">p.3</text>
<line x1="249.3" y1="147.25" x2="284.5" y2="147.25" stroke="#ff0000" stroke-width="2"/>
<text transform="translate(287,151.15) scale(1.2,1)" font-size="12" stroke="#000" stroke-width="0.08">p.4</text>
<line x1="249.3" y1="159.50" x2="284.5" y2="159.50" stroke="#aaaa00" stroke-width="2"/>
<text transform="translate(287,163.40) scale(1.2,1)" font-size="12" stroke="#000" stroke-width="0.08">p.5</text>
<line x1="249.3" y1="171.75" x2="284.5" y2="171.75" stroke="#ff8000" stroke-width="2"/>
<text transform="translate(287,175.65) scale(1.2,1)" font-size="12" stroke="#000" stroke-width="0.08">p.6</text>
<line x1="249.3" y1="184.00" x2="284.5" y2="184.00" stroke="#00aa00" stroke-width="2"/>
<text transform="translate(287,187.90) scale(1.2,1)" font-size="12" stroke="#000" stroke-width="0.08">p.7</text>
<line x1="249.3" y1="196.25" x2="284.5" y2="196.25" stroke="#800080" stroke-width="2"/>
<text transform="translate(287,200.15) scale(1.2,1)" font-size="12" stroke="#000" stroke-width="0.08">p.9</text>
<line x1="315.6" y1="147.10" x2="349.3" y2="147.10" stroke="#000" stroke-width="2" stroke-dasharray="2.9 2.1"/>
<text transform="translate(353,151.40) scale(1.14,1)" font-size="12"><tspan font-family="'Liberation Serif',serif" font-size="12.8">Γ</tspan><tspan stroke="#000" stroke-width="0.08">2.4</tspan></text>
<line x1="315.6" y1="159.35" x2="349.3" y2="159.35" stroke="#000" stroke-width="2" stroke-dasharray="2.8 2.0 6.6 2.0"/>
<text transform="translate(353,163.65) scale(1.14,1)" font-size="12"><tspan font-family="'Liberation Serif',serif" font-size="12.8">Γ</tspan><tspan stroke="#000" stroke-width="0.08">2.7</tspan></text>
<line x1="315.6" y1="171.60" x2="349.3" y2="171.60" stroke="#000" stroke-width="2" stroke-dasharray="5 4.8 5.5 1.5 8 1.8"/>
<text transform="translate(353,175.90) scale(1.14,1)" font-size="12"><tspan font-family="'Liberation Serif',serif" font-size="12.8">Γ</tspan><tspan stroke="#000" stroke-width="0.08">3.0</tspan></text>
<line x1="315.6" y1="183.85" x2="349.3" y2="183.85" stroke="#000" stroke-width="2" stroke-dasharray="5.6 2.2"/>
<text transform="translate(353,188.15) scale(1.14,1)" font-size="12"><tspan font-family="'Liberation Serif',serif" font-size="12.8">Γ</tspan><tspan stroke="#000" stroke-width="0.08">3.3</tspan></text>
</svg>
</div>
</body></html>
